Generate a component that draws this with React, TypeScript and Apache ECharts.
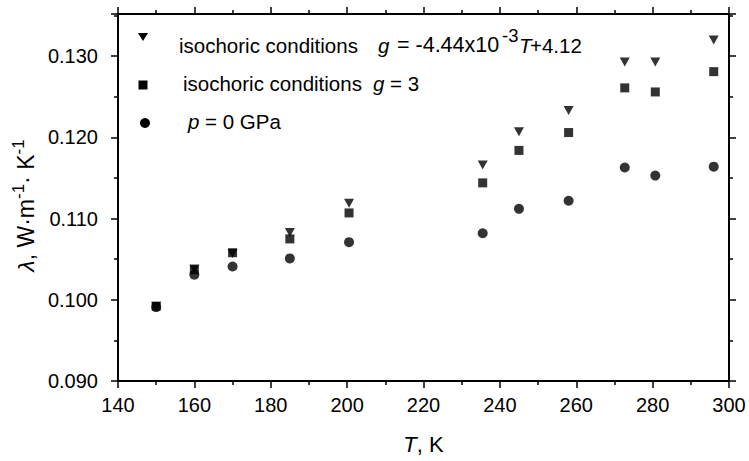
import React, { useEffect, useRef } from "react";
import * as echarts from "echarts";

const temperatures = [150, 160, 170, 185, 200.5, 235.5, 245, 258, 272.7, 280.7, 296];
const isochoricLinear = [0.0992, 0.1038, 0.1057, 0.1083, 0.1119, 0.1166, 0.1207, 0.1233, 0.1293, 0.1293, 0.132];
const isochoricConst = [0.0992, 0.1037, 0.1058, 0.1075, 0.1107, 0.1144, 0.1184, 0.1206, 0.1261, 0.1256, 0.1281];
const zeroPressure = [0.0991, 0.1031, 0.1041, 0.1051, 0.1071, 0.1082, 0.1112, 0.1122, 0.1163, 0.1153, 0.1164];

const FONT = "'Liberation Sans', Arial, sans-serif";

const pairs = (ys: number[]) => temperatures.map((t, i) => [t, ys[i]]);

export default function App() {
  const ref = useRef<HTMLDivElement>(null);
  useEffect(() => {
    if (!ref.current) return;
    const chart = echarts.init(ref.current, undefined, { renderer: "svg" });
    const axisLine = { show: true, lineStyle: { color: "#000", width: 2 } };
    const axisTick = { show: true, inside: false, length: 7, lineStyle: { color: "#000", width: 1.5 } };
    const minorTick = { show: true, splitNumber: 2, length: 4, lineStyle: { color: "#000", width: 1.5 } };
    const xNameRich = {
      i: { fontStyle: "italic" as const, fontSize: 22, fontFamily: FONT, color: "#000", lineHeight: 30 },
      n: { fontSize: 22, fontFamily: FONT, color: "#000", lineHeight: 30 },
    };
    const yNameRich = {
      i: { fontStyle: "italic" as const, fontSize: 23, fontFamily: FONT, color: "#000", lineHeight: 32 },
      n: { fontSize: 23, fontFamily: FONT, color: "#000", lineHeight: 32 },
      s: { fontSize: 17, fontFamily: FONT, color: "#000", lineHeight: 17, verticalAlign: "top" as const },
    };
    const LF = 20.5;
    const txt = (x: number, y: number, text: string, italic = false, size = LF) => ({
      type: "text",
      x,
      y,
      style: {
        text,
        fill: "#000",
        fontSize: size,
        fontFamily: FONT,
        fontStyle: italic ? "italic" : "normal",
        verticalAlign: "middle",
        align: "left",
      },
    });
    chart.setOption({
      animation: false,
      backgroundColor: "#fff",
      grid: { left: 118, right: 20, top: 14, bottom: 80, containLabel: false, outerBoundsMode: "none" },
      xAxis: [
        {
          type: "value",
          position: "bottom",
          min: 140,
          max: 300,
          interval: 20,
          axisLine,
          axisTick,
          minorTick,
          splitLine: { show: false },
          axisLabel: { color: "#000", fontSize: 20, fontFamily: FONT, margin: 14 },
          name: "{i|T}{n|, K}",
          nameLocation: "middle",
          nameGap: 48,
          nameTextStyle: { rich: xNameRich },
        },
        {
          type: "value",
          position: "top",
          min: 140,
          max: 300,
          interval: 20,
          axisLine,
          axisTick,
          minorTick,
          splitLine: { show: false },
          axisLabel: { show: false },
        },
      ],
      yAxis: [
        {
          type: "value",
          position: "left",
          min: 0.09,
          max: 0.1352,
          interval: 0.01,
          axisLine,
          axisTick,
          minorTick,
          splitLine: { show: false },
          axisLabel: {
            color: "#000",
            fontSize: 20,
            fontFamily: FONT,
            margin: 20,
            formatter: (v: number) => (v > 0.131 ? "" : v.toFixed(3)),
          },
          name: "{i|λ}{n|, W·m}{s|-1}{n|· K}{s|-1}",
          nameLocation: "middle",
          nameGap: 63,
          nameTextStyle: { rich: yNameRich, padding: [0, 16, 0, 0] },
        },
        {
          type: "value",
          position: "right",
          min: 0.09,
          max: 0.1352,
          interval: 0.01,
          axisLine,
          axisTick,
          minorTick,
          splitLine: { show: false },
          axisLabel: { show: false },
        },
      ],
      series: [
        {
          name: "p = 0 GPa",
          type: "scatter",
          data: pairs(zeroPressure),
          symbol: "circle",
          symbolSize: 10,
          itemStyle: { color: "#000" },
        },
        {
          name: "isochoric conditions g = 3",
          type: "scatter",
          data: pairs(isochoricConst),
          symbol: "rect",
          symbolSize: 9,
          itemStyle: { color: "#000" },
        },
        {
          name: "isochoric conditions g = -4.44x10-3T+4.12",
          type: "scatter",
          data: pairs(isochoricLinear),
          symbol: "triangle",
          symbolRotate: 180,
          symbolSize: [10, 9],
          itemStyle: { color: "#000" },
        },
      ],
      graphic: [
        {
          type: "polygon",
          shape: { points: [[138, 33], [148, 33], [143, 41]] },
          style: { fill: "#000" },
        },
        { type: "rect", shape: { x: 138.5, y: 80.5, width: 9, height: 9 }, style: { fill: "#000" } },
        { type: "circle", shape: { cx: 145, cy: 123, r: 5 }, style: { fill: "#000" } },
        txt(179, 45, "isochoric conditions"),
        txt(378, 45, "g", true),
        txt(397, 45, "= -4.44x10", false, 21.5),
        txt(502, 35, "-3", false, 18.5),
        txt(519, 45, "T", true),
        txt(530, 45, "+4.12"),
        txt(183, 83, "isochoric conditions"),
        txt(373, 83, "g", true),
        txt(390, 83, "= 3"),
        txt(188, 121, "p", true),
        txt(205, 121, "= 0 GPa"),
      ],
    });
    return () => chart.dispose();
  }, []);
  return (
    <div
      ref={ref}
      style={{ position: "fixed", left: 0, top: 0, width: 749, height: 461, background: "#fff" }}
    />
  );
}
